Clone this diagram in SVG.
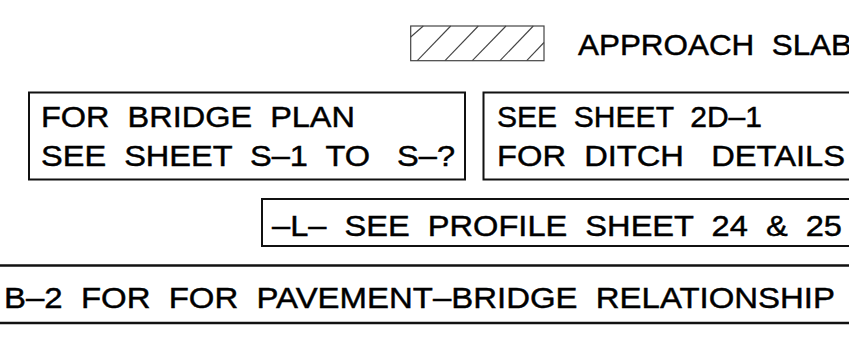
<svg xmlns="http://www.w3.org/2000/svg" width="849" height="339" viewBox="0 0 849 339">
<style>
.t{font-family:"Liberation Sans",Arial,sans-serif;font-size:29.5px;fill:#000;stroke:#000;stroke-width:0.45;white-space:pre}
.box{fill:none;stroke:#111;stroke-width:2}
.hb{fill:none;stroke:#444;stroke-width:1.2}
.h{stroke:#444;stroke-width:1.1}
.rule{stroke:#111;stroke-width:2.5}
</style>
<rect width="849" height="339" fill="#fff"/>
<g id="legend">
<rect class="hb" x="410.7" y="26" width="133.3" height="34.7"/>
<line class="h" x1="410.7" y1="37" x2="423.3" y2="26"/>
<line class="h" x1="417.3" y1="60.7" x2="450.7" y2="26"/>
<line class="h" x1="445" y1="60.7" x2="478.3" y2="26"/>
<line class="h" x1="472.3" y1="60.7" x2="506" y2="26"/>
<line class="h" x1="500" y1="60.7" x2="533.3" y2="26"/>
<line class="h" x1="526.7" y1="60.7" x2="544" y2="42.5"/>
<text class="t" x="578" y="54.5" textLength="274" lengthAdjust="spacingAndGlyphs">APPROACH  SLAB</text>
</g>
<g id="bridge-plan">
<rect class="box" x="29" y="92.5" width="436" height="87"/>
<text class="t" x="41" y="127" textLength="314" lengthAdjust="spacingAndGlyphs">FOR  BRIDGE  PLAN</text>
<text class="t" x="41" y="166" textLength="414" lengthAdjust="spacingAndGlyphs">SEE  SHEET  S–1  TO   S–?</text>
</g>
<g id="ditch-details">
<rect class="box" x="483.5" y="92.5" width="380" height="87"/>
<text class="t" x="497" y="127" textLength="265" lengthAdjust="spacingAndGlyphs">SEE  SHEET  2D–1</text>
<text class="t" x="497" y="166" textLength="348" lengthAdjust="spacingAndGlyphs">FOR  DITCH   DETAILS</text>
</g>
<g id="profile">
<rect class="box" x="262" y="199" width="600" height="47"/>
<text class="t" x="272" y="235.5" textLength="570" lengthAdjust="spacingAndGlyphs">–L–  SEE  PROFILE  SHEET  24  &amp;  25</text>
</g>
<g id="pavement-bridge">
<line class="rule" x1="0" y1="265.5" x2="849" y2="265.5"/>
<line class="rule" x1="0" y1="323" x2="849" y2="323"/>
<text class="t" x="4" y="308" textLength="831" lengthAdjust="spacingAndGlyphs">B–2  FOR  FOR  PAVEMENT–BRIDGE  RELATIONSHIP</text>
</g>
<g id="connectors"></g>
</svg>
